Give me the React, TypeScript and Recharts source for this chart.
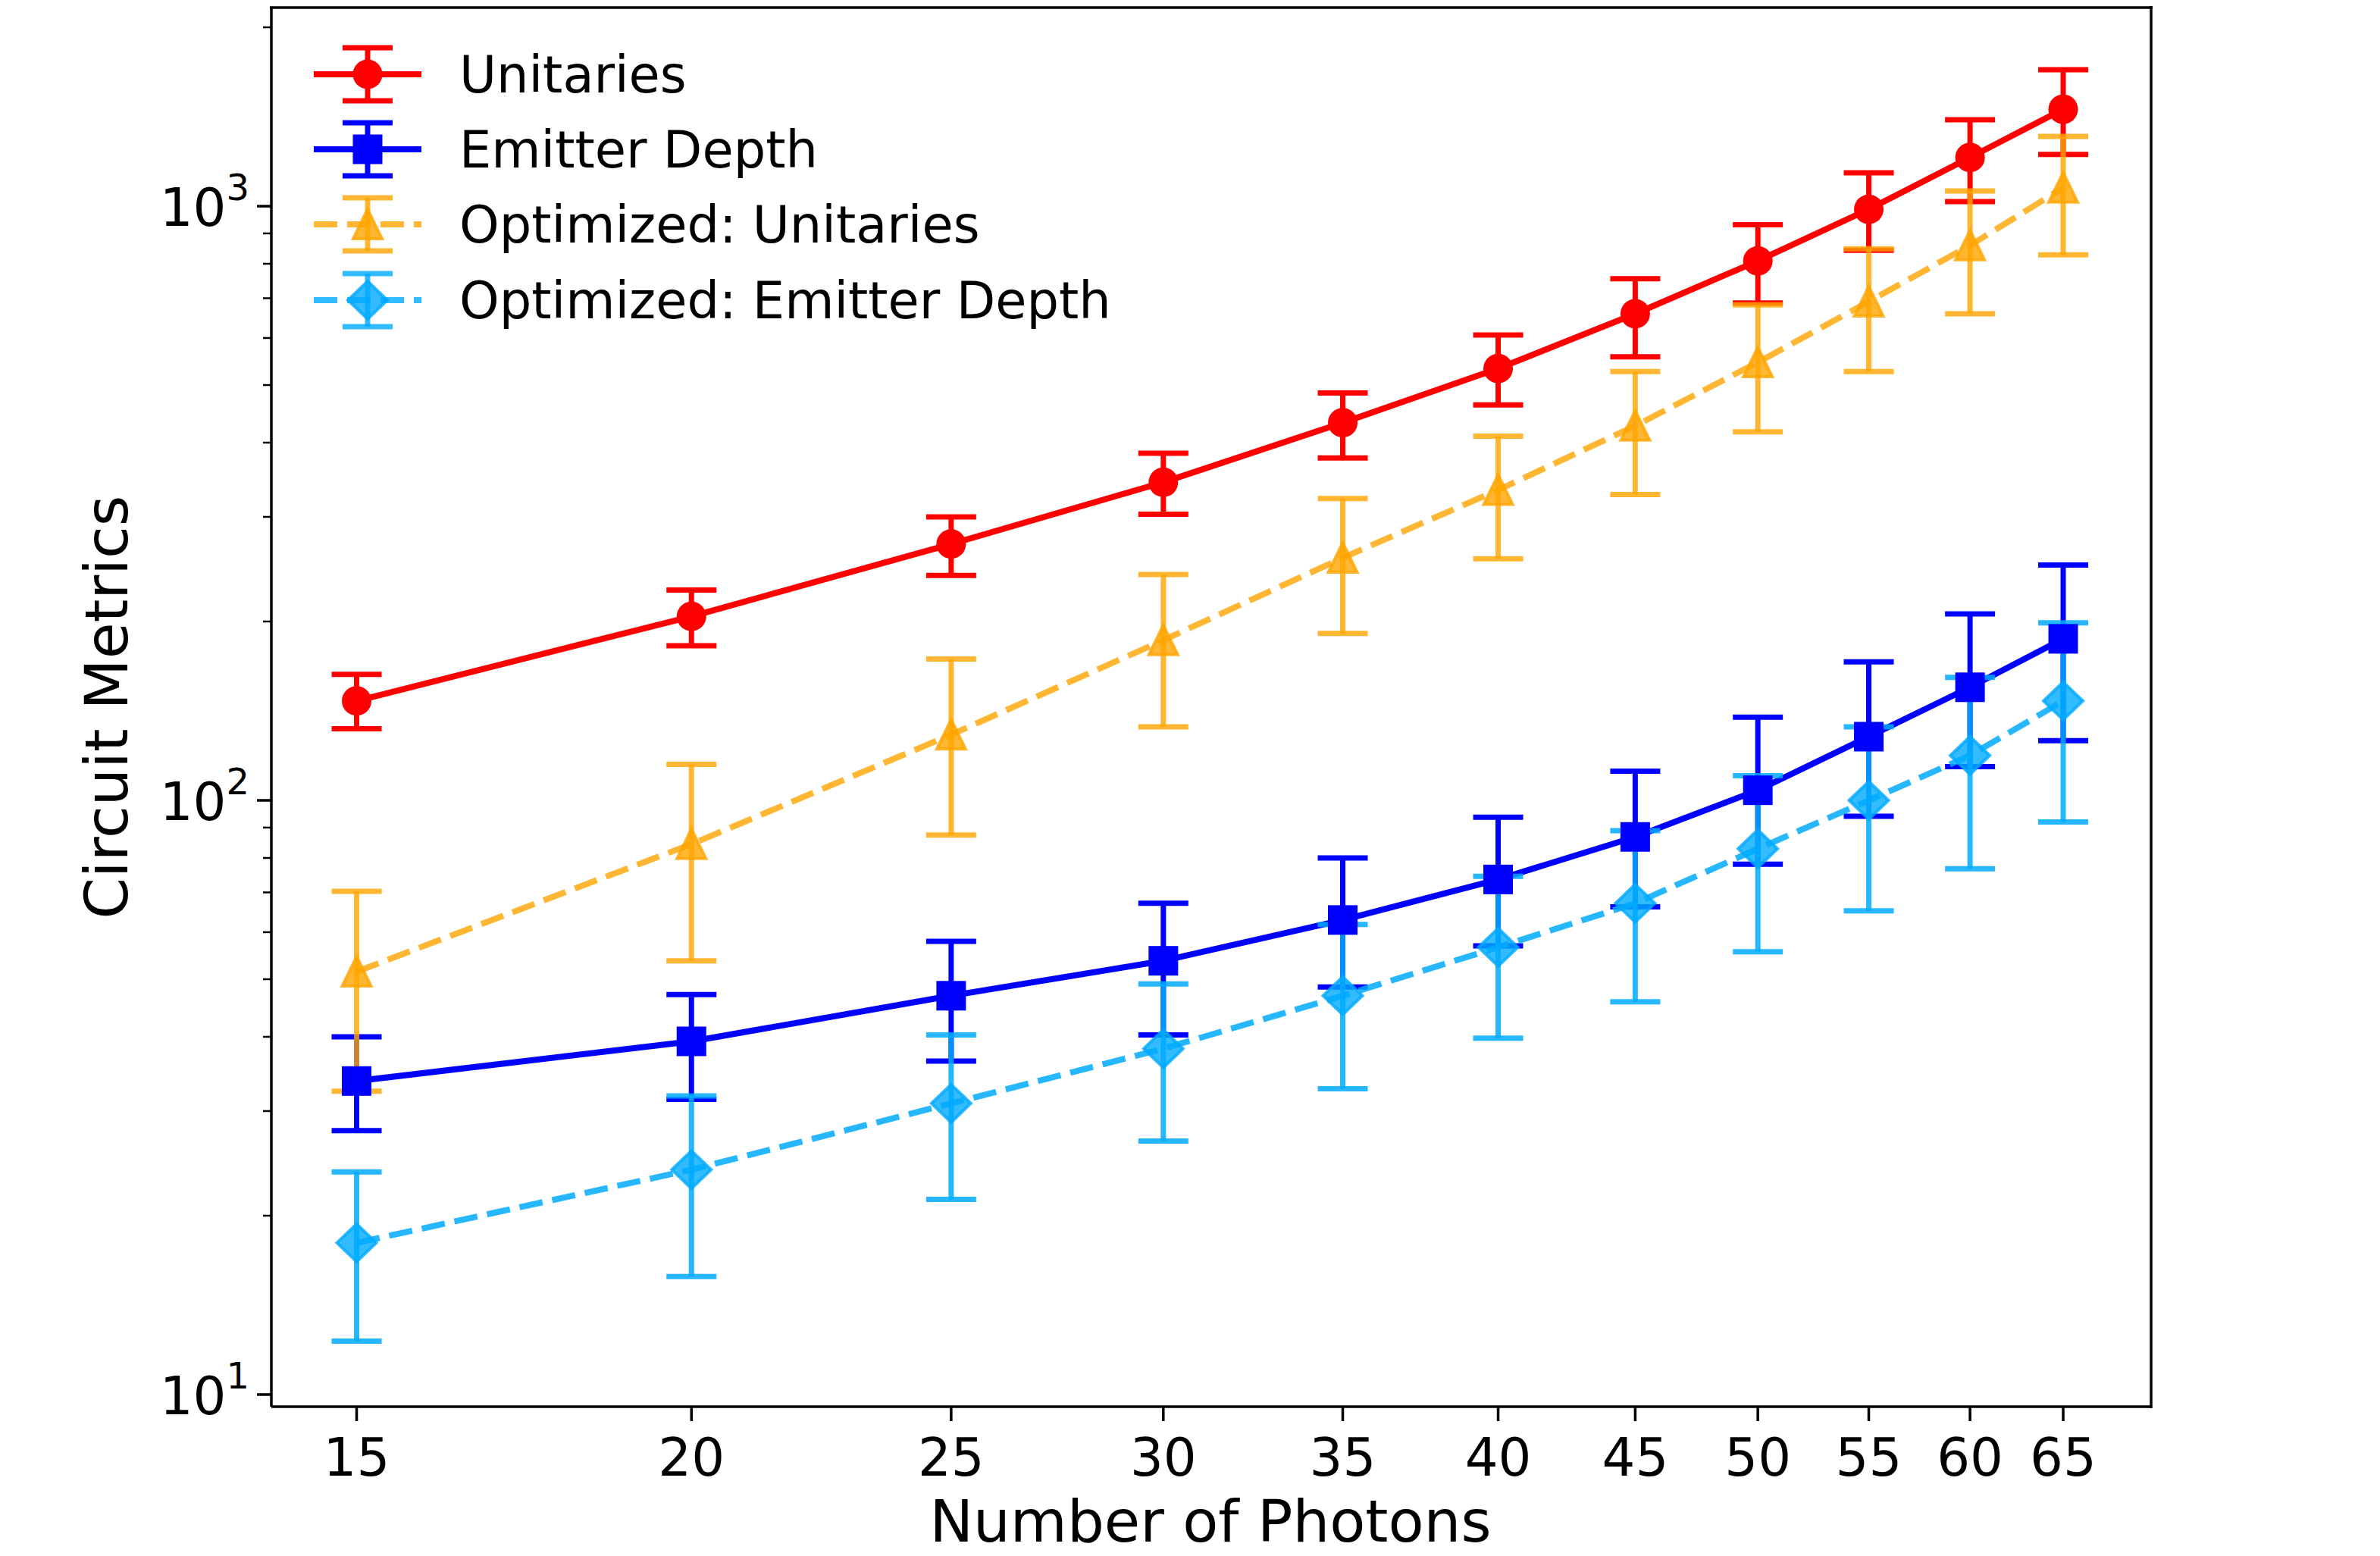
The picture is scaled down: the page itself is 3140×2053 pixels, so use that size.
import React from "react";
import { LineChart, Line, XAxis, YAxis, ErrorBar } from "recharts";

// number of photons
const photons = [15, 20, 25, 30, 35, 40, 45, 50, 55, 60, 65];

// Unitaries
const unitaries = [147, 204, 270, 343, 432, 533, 659, 809, 988, 1208, 1456];
const unitariesLow = [132, 182, 239, 303, 377, 463, 558, 687, 843, 1018, 1222];
const unitariesHigh = [163, 226, 300, 384, 485, 607, 755, 931, 1138, 1398, 1697];

// Emitter Depth
const depth = [33.7, 39.3, 46.9, 53.7, 62.9, 73.6, 86.8, 104, 128, 155, 187];
const depthLow = [27.8, 31.4, 36.4, 40.3, 48.5, 56.9, 66.2, 78.1, 94, 114, 126];
const depthHigh = [40, 47.1, 57.9, 67.1, 80, 93.7, 112, 138, 171, 206, 249];

// Optimized: Unitaries
const optUnitaries = [51.5, 84.4, 129, 186, 256, 333, 427, 546, 691, 859, 1074];
const optUnitariesLow = [32.4, 53.7, 87.4, 133, 191, 255, 327, 417, 527, 659, 828];
const optUnitariesHigh = [70.3, 115, 173, 240, 322, 410, 527, 682, 848, 1061, 1310];

// Optimized: Emitter Depth
const optDepth = [18.0, 23.9, 30.9, 38.2, 46.9, 56.6, 67.1, 82.9, 100, 119, 147];
const optDepthLow = [12.3, 15.8, 21.3, 26.7, 32.7, 39.8, 45.8, 55.6, 65.2, 76.7, 92];
const optDepthHigh = [23.7, 31.8, 40.3, 49.1, 61.8, 74.5, 88.9, 110, 133, 161, 199];

const xTicks = photons;
const yTicks = [10, 20, 30, 40, 50, 60, 70, 80, 90, 100, 200, 300, 400, 500, 600, 700, 800, 900, 1000, 2000];
const legendLabels = ["Unitaries", "Emitter Depth", "Optimized: Unitaries", "Optimized: Emitter Depth"];

const RED = "#ff0000";
const BLUE = "#0000ff";
const ORANGE = "#ffa500";
const SKY = "#00aaff";
const FONT = "DejaVu Sans";
const LW = 8;
const EW = 7;
const DASH = "31 13";

const data = photons.map((n, i) => ({
  n,
  u: unitaries[i],
  uErr: [unitaries[i] - unitariesLow[i], unitariesHigh[i] - unitaries[i]],
  d: depth[i],
  dErr: [depth[i] - depthLow[i], depthHigh[i] - depth[i]],
  ou: optUnitaries[i],
  ouErr: [optUnitaries[i] - optUnitariesLow[i], optUnitariesHigh[i] - optUnitaries[i]],
  od: optDepth[i],
  odErr: [optDepth[i] - optDepthLow[i], optDepthHigh[i] - optDepth[i]],
}));

const marker = (kind: string, cx: number, cy: number, key?: any) => {
  if (kind === "circle") return <circle key={key} cx={cx} cy={cy} r={19.5} fill={RED} />;
  if (kind === "square")
    return <rect key={key} x={cx - 19.5} y={cy - 19.5} width={39} height={39} fill={BLUE} />;
  if (kind === "triangle")
    return (
      <polygon
        key={key}
        points={`${cx},${cy - 20} ${cx - 19},${cy + 19} ${cx + 19},${cy + 19}`}
        fill={ORANGE}
        fillOpacity={0.8}
        stroke={ORANGE}
        strokeOpacity={0.8}
        strokeWidth={4}
        strokeLinejoin="miter"
      />
    );
  return (
    <polygon
      key={key}
      points={`${cx},${cy - 25} ${cx + 26},${cy} ${cx},${cy + 25} ${cx - 26},${cy}`}
      fill={SKY}
      fillOpacity={0.8}
      stroke={SKY}
      strokeOpacity={0.8}
      strokeWidth={4}
    />
  );
};

const dotOf = (kind: string) => (p: any) => marker(kind, p.cx, p.cy, p.index);

const XTick = (props: any) => {
  const { x, y, payload } = props;
  return (
    <g>
      <line x1={x} x2={x} y1={y} y2={y + 19} stroke="#000" strokeWidth={3.5} />
      <text x={x} y={y + 91} textAnchor="middle" fontSize={69} fontFamily={FONT} fill="#000">
        {payload.value}
      </text>
    </g>
  );
};

const YTick = (props: any) => {
  const { x, y, payload } = props;
  const v = payload.value;
  const exp = Math.round(Math.log10(v));
  const major = Math.abs(v - Math.pow(10, exp)) < 1e-6;
  if (!major) {
    return <line x1={x - 11} x2={x} y1={y} y2={y} stroke="#000" strokeWidth={2.5} />;
  }
  return (
    <g>
      <line x1={x - 19} x2={x} y1={y} y2={y} stroke="#000" strokeWidth={3.5} />
      <text x={x - 29} y={y + 26} textAnchor="end" fontSize={69} fontFamily={FONT} fill="#000">
        10
        <tspan dy={-34} fontSize={48}>
          {exp}
        </tspan>
      </text>
    </g>
  );
};

const legendKinds = ["circle", "square", "triangle", "diamond"];
const legendColors = [RED, BLUE, ORANGE, SKY];
const legendRows = [98, 197, 296, 396];

const LegendHandle = ({ i }: { i: number }) => {
  const y = legendRows[i];
  const c = legendColors[i];
  const dashed = i >= 2;
  const op = dashed ? 0.8 : 1;
  return (
    <g>
      <line
        x1={414}
        x2={556}
        y1={y}
        y2={y}
        stroke={c}
        strokeOpacity={op}
        strokeWidth={LW}
        strokeDasharray={dashed ? DASH : undefined}
      />
      <line x1={485} x2={485} y1={y - 35} y2={y + 35} stroke={c} strokeOpacity={op} strokeWidth={EW} />
      <line x1={452} x2={518} y1={y - 35} y2={y - 35} stroke={c} strokeOpacity={op} strokeWidth={EW} />
      <line x1={452} x2={518} y1={y + 35} y2={y + 35} stroke={c} strokeOpacity={op} strokeWidth={EW} />
      {marker(legendKinds[i], 485, y)}
      <text x={606} y={y + 24} fontSize={67} fontFamily={FONT} fill="#000">
        {legendLabels[i]}
      </text>
    </g>
  );
};

export default function App() {
  return (
    <div style={{ position: "absolute", left: 0, top: 0, width: 3140, height: 2053, background: "#fff" }}>
      <LineChart
        width={3140}
        height={2053}
        data={data}
        margin={{ top: 10, right: 302, bottom: 0, left: 0 }}
      >
        <XAxis
          dataKey="n"
          type="number"
          scale="log"
          domain={[13.94, 70.1]}
          allowDataOverflow
          ticks={xTicks}
          interval={0}
          height={197}
          tickSize={0}
          tickMargin={0}
          tickLine={false}
          axisLine={{ stroke: "#000", strokeWidth: 3.5 }}
          tick={<XTick />}
        />
        <YAxis
          type="number"
          scale="log"
          domain={[9.54, 2159]}
          allowDataOverflow
          ticks={yTicks}
          interval={0}
          width={358}
          tickSize={0}
          tickMargin={0}
          tickLine={false}
          axisLine={{ stroke: "#000", strokeWidth: 3.5 }}
          tick={<YTick />}
        />
        <Line
          dataKey="u"
          stroke={RED}
          strokeWidth={LW}
          dot={dotOf("circle")}
          activeDot={false}
          isAnimationActive={false}
        >
          <ErrorBar dataKey="uErr" direction="y" width={33} stroke={RED} strokeWidth={EW} />
        </Line>
        <Line
          dataKey="d"
          stroke={BLUE}
          strokeWidth={LW}
          dot={dotOf("square")}
          activeDot={false}
          isAnimationActive={false}
        >
          <ErrorBar dataKey="dErr" direction="y" width={33} stroke={BLUE} strokeWidth={EW} />
        </Line>
        <Line
          dataKey="ou"
          stroke={ORANGE}
          strokeOpacity={0.8}
          strokeWidth={LW}
          strokeDasharray={DASH}
          dot={dotOf("triangle")}
          activeDot={false}
          isAnimationActive={false}
        >
          <ErrorBar dataKey="ouErr" direction="y" width={33} stroke={ORANGE} strokeOpacity={0.8} strokeWidth={EW} />
        </Line>
        <Line
          dataKey="od"
          stroke={SKY}
          strokeOpacity={0.85}
          strokeWidth={LW}
          strokeDasharray={DASH}
          dot={dotOf("diamond")}
          activeDot={false}
          isAnimationActive={false}
        >
          <ErrorBar dataKey="odErr" direction="y" width={33} stroke={SKY} strokeOpacity={0.85} strokeWidth={EW} />
        </Line>
      </LineChart>
      <svg
        width={3140}
        height={2053}
        style={{ position: "absolute", left: 0, top: 0, pointerEvents: "none" }}
      >
        {/* top and right spines */}
        <line x1={356} x2={2840} y1={10} y2={10} stroke="#000" strokeWidth={3.5} />
        <line x1={2838} x2={2838} y1={8} y2={1858} stroke="#000" strokeWidth={3.5} />
        {legendLabels.map((_, i) => (
          <LegendHandle key={i} i={i} />
        ))}
        <text x={1597} y={2034} textAnchor="middle" fontSize={77} fontFamily={FONT} fill="#000">
          Number of Photons
        </text>
        <text
          x={168}
          y={933}
          textAnchor="middle"
          fontSize={78}
          fontFamily={FONT}
          fill="#000"
          transform="rotate(-90 168 933)"
        >
          Circuit Metrics
        </text>
      </svg>
    </div>
  );
}
